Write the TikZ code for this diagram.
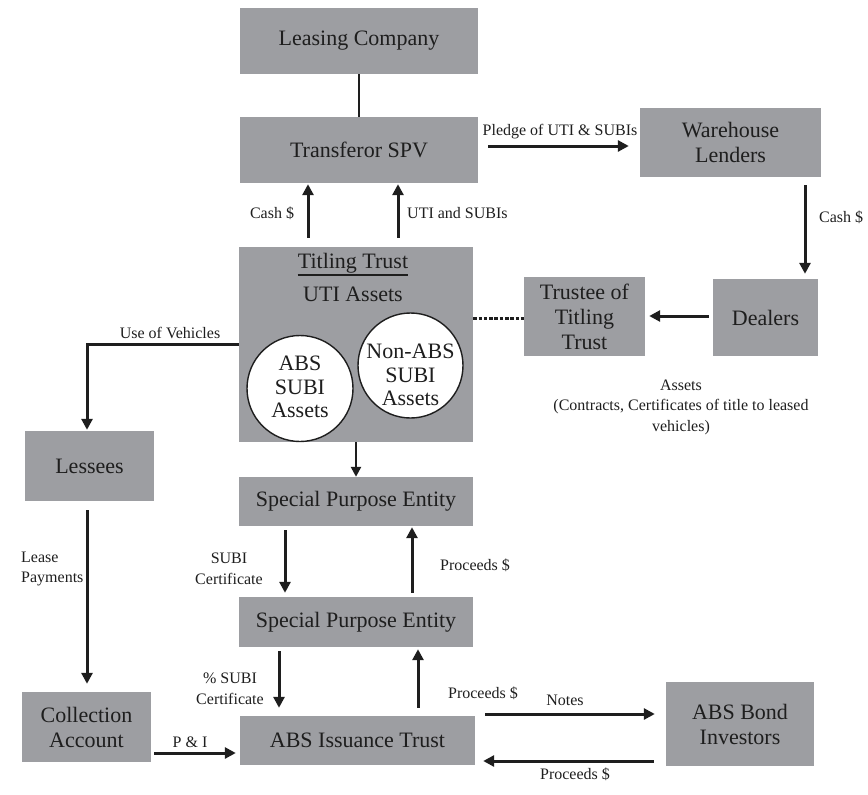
\documentclass[tikz,border=0pt]{standalone}
\usepackage{fontspec}
\setmainfont{Liberation Serif}
\usetikzlibrary{arrows.meta}
\definecolor{boxgrey}{RGB}{157,158,162}
\definecolor{ink}{RGB}{30,30,30}
\begin{document}
\begin{tikzpicture}[x=1pt,y=-1pt,
  box/.style={fill=boxgrey, inner sep=0pt, align=center, text=ink,
              font=\fontsize{22}{25}\selectfont},
  lbl/.style={inner sep=0pt, align=center, text=ink,
              font=\fontsize{16}{20.5}\selectfont},
  bubble/.style={circle, draw=ink, line width=1.4pt, fill=white, inner sep=0pt},
  bubbletext/.style={inner sep=0pt, align=center, text=ink,
              font=\fontsize{22}{23.5}\selectfont},
  arr/.style={draw=ink, line width=3pt, -{Triangle[length=11pt,width=11pt]}},
  thinarr/.style={draw=ink, line width=2.4pt, -{Triangle[length=10pt,width=10pt]}},
  link/.style={draw=ink, line width=1.4pt},
  dashlink/.style={draw=ink, line width=3pt, dash pattern=on 3.5pt off 1.8pt},
]
\useasboundingbox (0,0) rectangle (868,795);

% ---- boxes ----
\node[box, minimum width=238pt, minimum height=66pt] (lease) at (359,41) {Leasing Company};
\node[box, minimum width=238pt, minimum height=66pt] (spv) at (359,150) {Transferor SPV};
\node[box, minimum width=181pt, minimum height=69pt] (wh) at (730.5,142.5) {Warehouse\\Lenders};
\node[box, minimum width=234pt, minimum height=195pt] (tt) at (356,344.5) {};
\node[box, minimum width=121pt, minimum height=79pt] (trustee) at (584.5,316.5) {Trustee of\\Titling\\Trust};
\node[box, minimum width=105pt, minimum height=77pt] (dealers) at (765.5,317.5) {Dealers};
\node[box, minimum width=129pt, minimum height=70pt] (lessees) at (89.5,466) {Lessees};
\node[box, minimum width=234pt, minimum height=49pt] (spe1) at (356,501.5) {Special Purpose Entity};
\node[box, minimum width=234pt, minimum height=50pt] (spe2) at (356,622) {Special Purpose Entity};
\node[box, minimum width=129pt, minimum height=70pt] (coll) at (86.5,727) {Collection\\Account};
\node[box, minimum width=235pt, minimum height=49pt] (abs) at (357.5,740.5) {ABS Issuance Trust};
\node[box, minimum width=148pt, minimum height=84pt] (inv) at (740,724) {ABS Bond\\Investors};

% ---- contents of the titling trust ----
\node[box, fill=none, anchor=base] (ttname) at (353,268) {Titling Trust};
\draw[link, line width=1.8pt] ([yshift=-7pt]ttname.base west) -- ([yshift=-7pt]ttname.base east);
\node[box, fill=none, anchor=base] (uti) at (353,301) {UTI Assets};
\node[bubble, minimum size=106pt] (absc) at (300,388.5) {};
\node[bubbletext] (abst) at (300,387) {ABS\\SUBI\\Assets};
\node[bubble, minimum size=105pt] (nonc) at (410.5,365.5) {};
\node[bubbletext] (nont) at (410.5,375) {Non-ABS\\SUBI\\Assets};

% ---- connectors ----
\draw[link] (lease.south) -- (lease.south |- spv.north);

\coordinate (cashup) at ([xshift=-48pt]tt.north);
\draw[arr, shorten <=9pt, shorten >=1pt] (cashup) -- (cashup |- spv.south);
\coordinate (utiup) at ([xshift=42pt]tt.north);
\draw[arr, shorten <=9pt, shorten >=1pt] (utiup) -- (utiup |- spv.south);

\coordinate (pledge) at ([yshift=4pt]spv.east);
\draw[arr, shorten <=10pt, shorten >=11pt] (pledge) -- (pledge -| wh.west);

\coordinate (whcash) at ([xshift=74.5pt]wh.south);
\draw[arr, shorten <=8pt, shorten >=5pt] (whcash) -- (whcash |- dealers.north);

\coordinate (dealout) at ([yshift=1.5pt]dealers.west);
\draw[arr, shorten <=4pt, shorten >=4pt] (dealout) -- (dealout -| trustee.east);

\coordinate (ttdash) at ([yshift=26.5pt]tt.east);
\draw[dashlink] (ttdash) -- (ttdash -| trustee.west);

\draw[arr, shorten >=1pt] (tt.west) -| ([xshift=-2.5pt]lessees.north);

\coordinate (lease pay) at ([xshift=-2.5pt]lessees.south);
\draw[arr, shorten <=9pt, shorten >=8pt] (lease pay) -- (lease pay |- coll.north);

\draw[thinarr] (tt.south) -- (spe1.north);

\coordinate (subidown) at ([xshift=-71pt]spe1.south);
\draw[arr, shorten <=4pt, shorten >=4pt] (subidown) -- (subidown |- spe2.north);
\coordinate (procup) at ([xshift=56pt]spe2.north);
\draw[arr, shorten <=4pt, shorten >=1pt] (procup) -- (procup |- spe1.south);

\coordinate (psubidown) at ([xshift=-77pt]spe2.south);
\draw[arr, shorten <=4pt, shorten >=8pt] (psubidown) -- (psubidown |- abs.north);
\coordinate (procup2) at ([xshift=60.5pt]abs.north);
\draw[arr, shorten <=8pt, shorten >=2pt] (procup2) -- (procup2 |- spe2.south);

\coordinate (notes) at ([yshift=26.5pt]abs.east);
\draw[arr, shorten <=10pt, shorten >=11pt] (notes) -- (notes -| inv.west);
\coordinate (procback) at ([yshift=-20.5pt]abs.east);
\draw[arr, shorten <=12pt, shorten >=8pt] (procback -| inv.west) -- (procback);

\coordinate (pandi) at ([yshift=-26pt]coll.east);
\draw[arr, shorten <=3pt, shorten >=4pt] (pandi) -- (pandi -| abs.west);

% ---- flow labels ----
\node[lbl] (l1) at (272,213) {Cash \$};
\node[lbl, anchor=west] (l2) at (407,213) {UTI and SUBIs};
\node[lbl] (l3) at (560,132) {Pledge of UTI \& SUBIs};
\node[lbl, anchor=west] (l4) at (819,217) {Cash \$};
\node[lbl] (l5) at (170,333) {Use of Vehicles};
\node[lbl] (l6) at (681,407) {Assets\\(Contracts, Certificates of title to leased\\vehicles)};
\node[lbl, align=left, anchor=west] (l7) at (21,569) {Lease\\Payments};
\node[lbl] (l8) at (229,569) {SUBI\\Certificate};
\node[lbl, anchor=west] (l9) at (440,565) {Proceeds \$};
\node[lbl] (l10) at (230,689) {\% SUBI\\Certificate};
\node[lbl] (l11) at (483,693) {Proceeds \$};
\node[lbl] (l12) at (565,700) {Notes};
\node[lbl] (l13) at (575,774) {Proceeds \$};
\node[lbl] (l14) at (190,742) {P \& I};
\end{tikzpicture}
\end{document}
